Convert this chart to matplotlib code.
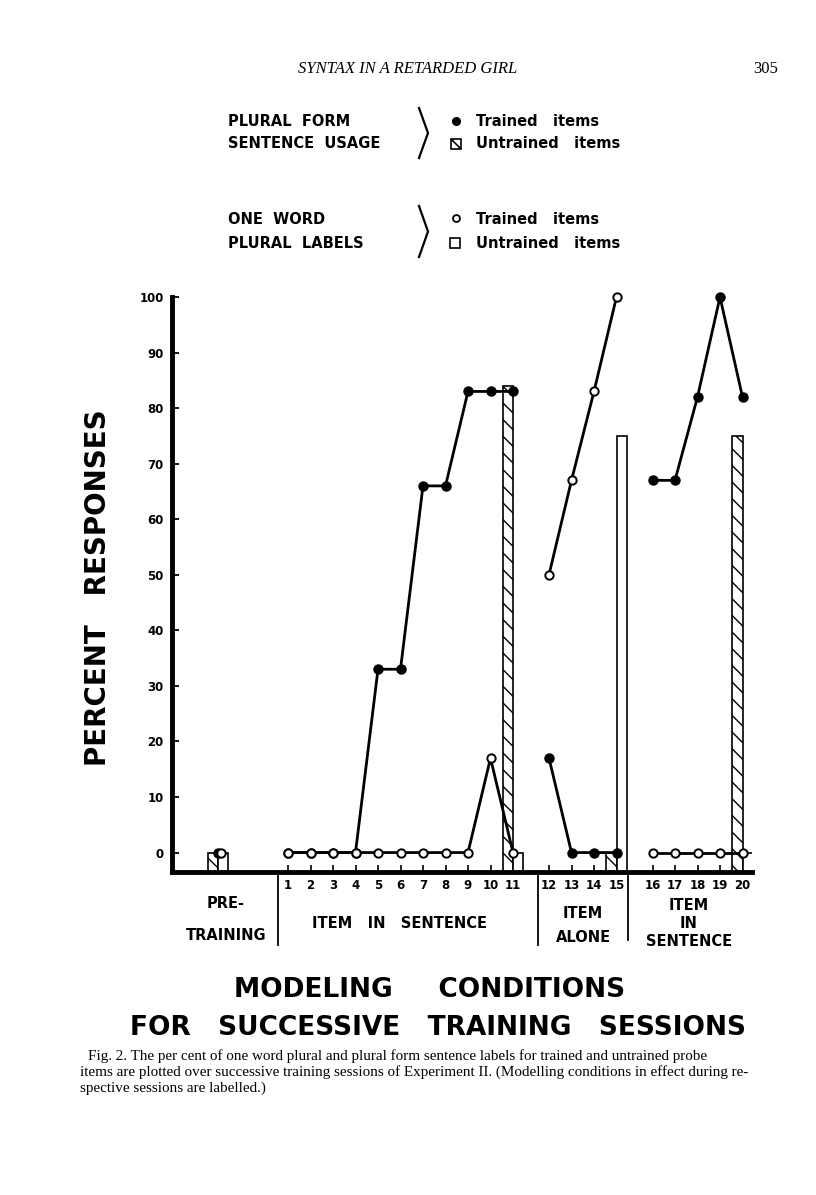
import matplotlib
matplotlib.use('agg')
import matplotlib.pyplot as plt
from matplotlib.patches import Rectangle
from matplotlib.lines import Line2D

### data

sessions = list(range(1, 21))
# which modelling condition each session belongs to (0: item in sentence, 1: item alone, 2: item in sentence)
session_group = [0] * 11 + [1] * 4 + [2] * 5
# plural form sentence usage, trained items (filled dots)
sent_trained = [0, 0, 0, 0, 33, 33, 66, 66, 83, 83, 83,
                17, 0, 0, 0,
                67, 67, 82, 100, 82]
# one word plural labels, trained items (open dots)
word_trained = [0, 0, 0, 0, 0, 0, 0, 0, 0, 17, 0,
                50, 67, 83, 100,
                0, 0, 0, 0, 0]
# probes of untrained items (bars)
probe_sessions = ['pre', 11, 15, 20]
sent_untrained = [0, 84, 0, 75]
word_untrained = [0, 0, 75, 0]
pre_sent_trained = 0
pre_word_trained = 0

yticks = [0, 10, 20, 30, 40, 50, 60, 70, 80, 90, 100]

### layout helpers

W, H = 816, 1195
GAP = 0.6        # extra space between condition groups
PRE_POS = -2.1   # where the pre-training probe sits
FLOOR = -3.5     # x axis drawn a little below zero


def pos(s):
    if s == 'pre':
        return PRE_POS
    return s + GAP * session_group[s - 1]


def fx(px):
    return px / W


def fy(py):
    return 1 - py / H


bold = dict(fontweight='bold', family='DejaVu Sans')

fig = plt.figure(figsize=(W / 100, H / 100), dpi=100)
ax = fig.add_axes([fx(172), fy(872), fx(752) - fx(172), (872 - 297) / H])

xs = [pos(s) for s in sessions]
ax.set_xlim(pos(1) + (172 - 288) / 22.5, pos(1) + (752 - 288) / 22.5)
ax.set_ylim(FLOOR, 100)

# bars: hatched = sentence usage untrained (left), open = one word untrained (right)
bw = 0.45
for s, hv, ov in zip(probe_sessions, sent_untrained, word_untrained):
    x = pos(s)
    ax.bar(x - bw / 2, hv - FLOOR, bottom=FLOOR, width=bw, facecolor='white',
           edgecolor='black', linewidth=1.2, hatch='\\\\', zorder=2)
    ax.bar(x + bw / 2, ov - FLOOR, bottom=FLOOR, width=bw, facecolor='white',
           edgecolor='black', linewidth=1.2, zorder=2)

# lines, broken between condition groups
for g in range(3):
    idx = [i for i in range(20) if session_group[i] == g]
    gx = [xs[i] for i in idx]
    ax.plot(gx, [sent_trained[i] for i in idx], color='black', lw=2.0,
            marker='o', ms=6.5, mfc='black', mec='black', zorder=3, clip_on=False)
    ax.plot(gx, [word_trained[i] for i in idx], color='black', lw=2.0,
            marker='o', ms=6, mfc='white', mec='black', mew=1.4, zorder=4, clip_on=False)

ax.plot([PRE_POS], [pre_sent_trained], 'o', color='black', ms=6.5, zorder=3)
ax.plot([PRE_POS + 0.1], [pre_word_trained], 'o', mfc='white', mec='black',
        mew=1.4, ms=6, zorder=4)

for side in ['top', 'right']:
    ax.spines[side].set_visible(False)
ax.spines['left'].set_linewidth(3.5)
ax.spines['bottom'].set_linewidth(3.5)

ax.set_yticks(yticks)
ax.set_yticklabels([str(v) for v in yticks], fontsize=8.5, **bold)
ax.tick_params(axis='y', direction='in', length=5, width=1.3, pad=6)
ax.set_xticks(xs)
ax.set_xticklabels([str(s) for s in sessions], fontsize=8.5, **bold)
ax.tick_params(axis='x', direction='in', length=5, width=1.2, pad=5)

# separators between conditions, below the axis
tr = ax.get_xaxis_transform()
for sep, low in [(0.56, -0.127), (12.1, -0.127), (16.1, -0.118)]:
    ax.plot([sep, sep], [0, low], color='black', lw=1.3, transform=tr, clip_on=False)

# condition labels
fig.text(fx(226), fy(903), 'PRE-', ha='center', va='center', fontsize=10.5, **bold)
fig.text(fx(226), fy(936), 'TRAINING', ha='center', va='center', fontsize=10.5, **bold)
fig.text(fx(400), fy(923), 'ITEM   IN   SENTENCE', ha='center', va='center', fontsize=10.5, **bold)
fig.text(fx(583), fy(913), 'ITEM', ha='center', va='center', fontsize=10.5, **bold)
fig.text(fx(583), fy(937), 'ALONE', ha='center', va='center', fontsize=10.5, **bold)
fig.text(fx(689), fy(906), 'ITEM', ha='center', va='center', fontsize=10.5, **bold)
fig.text(fx(689), fy(924), 'IN', ha='center', va='center', fontsize=10.5, **bold)
fig.text(fx(689), fy(942), 'SENTENCE', ha='center', va='center', fontsize=10.5, **bold)

# axis titles
fig.text(fx(430), fy(990), 'MODELING     CONDITIONS', ha='center', va='center', fontsize=19, **bold)
fig.text(fx(438), fy(1028), 'FOR   SUCCESSIVE   TRAINING   SESSIONS', ha='center', va='center',
         fontsize=19, **bold)
fig.text(fx(98), fy(588), 'PERCENT   RESPONSES', rotation=90, ha='center', va='center',
         fontsize=20, **bold)

# legend block
leg_rows = [(121, 144, 'PLURAL  FORM', 'SENTENCE  USAGE'),
            (219, 243, 'ONE  WORD', 'PLURAL  LABELS')]
for r1, r2, t1, t2 in leg_rows:
    fig.text(fx(228), fy(r1), t1, va='center', fontsize=10.5, **bold)
    fig.text(fx(228), fy(r2), t2, va='center', fontsize=10.5, **bold)
    top, bot = r1 - 13, r2 + 14
    fig.add_artist(Line2D([fx(419), fx(428), fx(419)], [fy(top), fy((top + bot) / 2), fy(bot)],
                          color='black', lw=1.6))
    fig.text(fx(476), fy(r1), 'Trained   items', va='center', fontsize=10.5, **bold)
    fig.text(fx(476), fy(r2), 'Untrained   items', va='center', fontsize=10.5, **bold)

fig.add_artist(Line2D([fx(456)], [fy(121)], marker='o', ms=5.5, color='black'))
fig.add_artist(Line2D([fx(456)], [fy(218)], marker='o', ms=5, mfc='white', mec='black', mew=1.3))
fig.add_artist(Rectangle((fx(451), fy(149)), 10 / W, 10 / H, facecolor='white',
                         edgecolor='black', lw=1.2))
fig.add_artist(Line2D([fx(452), fx(460)], [fy(140), fy(148)], color='black', lw=1.2))
fig.add_artist(Rectangle((fx(450), fy(248)), 10 / W, 10 / H, facecolor='white',
                         edgecolor='black', lw=1.2))

# page header and caption
fig.text(fx(408), fy(69), 'SYNTAX IN A RETARDED GIRL', ha='center', va='center',
         fontsize=12, style='italic', family='Liberation Serif')
fig.text(fx(778), fy(69), '305', ha='right', va='center', fontsize=12, family='Liberation Serif')
caption = ['Fig. 2. The per cent of one word plural and plural form sentence labels for trained and untrained probe',
           'items are plotted over successive training sessions of Experiment II. (Modelling conditions in effect during re-',
           'spective sessions are labelled.)']
for i, line in enumerate(caption):
    fig.text(fx(88 if i == 0 else 80), fy(1056 + 16 * i), line, va='center', fontsize=10.9,
             family='Liberation Serif')

plt.savefig('out.png', format='png', transparent=False)
plt.close()
